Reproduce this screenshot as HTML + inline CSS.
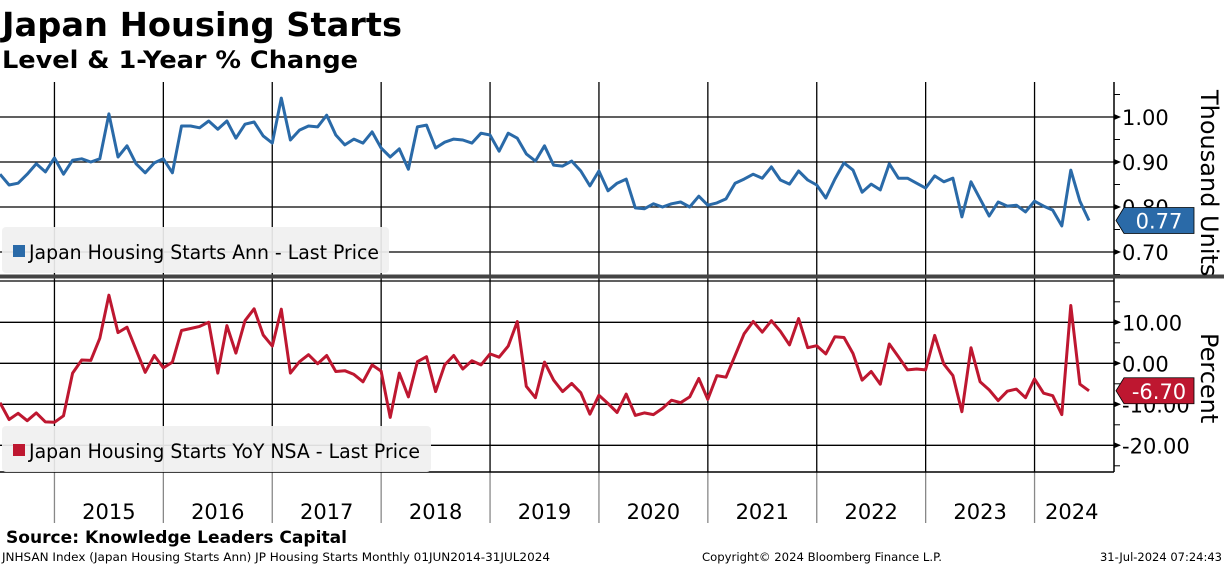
<!DOCTYPE html>
<html><head><meta charset="utf-8">
<style>
body{margin:0;background:#fff;width:1224px;height:566px;overflow:hidden;font-family:"DejaVu Sans","Liberation Sans",sans-serif;}
svg{display:block}
</style></head>
<body>
<svg id="chart" width="1224" height="566" xmlns="http://www.w3.org/2000/svg">
<text x="2" y="36" font-size="33" font-weight="bold" textLength="400" lengthAdjust="spacingAndGlyphs">Japan Housing Starts</text>
<text x="2" y="68" font-size="24" font-weight="bold" textLength="356" lengthAdjust="spacingAndGlyphs">Level &amp; 1-Year % Change</text>
<g id="grid"></g>
<g id="series"></g>
<g id="axes"></g>
<text x="6" y="543" font-size="17" font-weight="bold" textLength="341" lengthAdjust="spacingAndGlyphs">Source: Knowledge Leaders Capital</text>
<text x="2" y="561" font-size="11.5" textLength="548" lengthAdjust="spacingAndGlyphs">JNHSAN Index (Japan Housing Starts Ann) JP Housing Starts  Monthly 01JUN2014-31JUL2024</text>
<text x="702" y="561" font-size="11.5" textLength="240" lengthAdjust="spacingAndGlyphs">Copyright© 2024 Bloomberg Finance L.P.</text>
<text x="1222" y="561" font-size="11.5" text-anchor="end">31-Jul-2024 07:24:43</text>
</svg>
<script>
const levelValues=[.873,.849,.853,.873,.896,.878,.909,.873,.904,.907,.900,.907,1.007,.911,.936,.896,.876,.898,.907,.876,.980,.980,.976,.991,.973,.991,.953,.984,.989,.958,.942,1.042,.949,.971,.980,.978,1.004,.960,.938,.951,.942,.967,.931,.911,.929,
.884,.978,.982,.931,.944,.951,.949,.942,.964,.960,.924,.964,.953,.918,.902,.936,.893,.891,.902,.880,.847,.880,.836,.853,.862,.798,.796,.807,.800,.807,.811,.800,.824,.804,.809,.818,.853,.862,.873,
.864,.889,.860,.851,.880,.860,.849,.820,.862,.898,.882,.833,.851,.838,.896,.864,.864,.853,.842,.869,.856,.864,.778,.856,.818,.780,.811,.802,.804,.789,.813,.802,.793,.758,.882,.813,.770];
const yoyValues=[-9.6,-13.7,-12.2,-14.0,-12.1,-14.3,-14.4,-12.8,-2.4,0.8,0.7,6.1,16.6,7.5,8.8,3.3,-2.2,1.9,-1.1,0.3,8.0,8.5,9.0,10.0,-2.4,9.2,2.5,10.4,13.3,6.9,4.2,13.2,-2.4,0.4,2.1,-0.1,1.9,-2.0,-1.8,-2.7,-4.5,-0.4,-1.9,-13.2,-2.4,
-8.2,0.4,1.6,-6.9,-0.4,1.9,-1.4,0.6,-0.4,2.3,1.5,4.2,10.2,-5.6,-8.4,0.3,-4.1,-6.9,-4.9,-7.2,-12.4,-7.8,-9.8,-12.0,-7.5,-12.7,-12.1,-12.5,-11.0,-9.0,-9.6,-8.2,-3.7,-8.8,-3.0,-3.4,1.9,7.2,10.2,
7.6,10.4,7.8,4.5,10.9,3.8,4.3,2.3,6.5,6.3,2.4,-4.1,-2.0,-5.1,4.7,1.6,-1.6,-1.4,-1.6,6.8,-0.2,-3.0,-11.8,3.8,-4.5,-6.5,-9.1,-6.8,-6.3,-8.4,-3.8,-7.3,-7.9,-12.5,14.1,-5.1,-6.7];
const yearLabels=["2015","2016","2017","2018","2019","2020","2021","2022","2023","2024"];
const levelTicks=[1.00,0.90,0.80,0.70];
const yoyTicks=[10,0,-10,-20];

const NS="http://www.w3.org/2000/svg";
const xOf=i=>i*9.075;
const yTop=v=>117+(1.00-v)*450;
const yBot=v=>363.3-v*4.1;
const AX=1114;
function mk(tag,attrs,parent){const e=document.createElementNS(NS,tag);for(const k in attrs)e.setAttribute(k,attrs[k]);parent.appendChild(e);return e;}
const grid=document.getElementById('grid'),ser=document.getElementById('series'),axes=document.getElementById('axes');

levelTicks.forEach(t=>{const y=yTop(t);
 const l=mk('line',{x1:0,x2:AX,y1:y,y2:y,stroke:'#000','stroke-width':1.3},grid);
 
 
 mk('path',{d:`M${AX} ${y-3}L${AX+7} ${y}L${AX} ${y+3}Z`,fill:'#000'},axes);
 const tx=mk('text',{x:AX+8,y:y+8,'font-size':21},axes);tx.textContent=t.toFixed(2);
 
 
});
yoyTicks.forEach(t=>{const y=yBot(t);
 const l=mk('line',{x1:0,x2:AX,y1:y,y2:y,stroke:'#000','stroke-width':1.3},grid);
 
 
 mk('path',{d:`M${AX} ${y-3}L${AX+7} ${y}L${AX} ${y+3}Z`,fill:'#000'},axes);
 const tx=mk('text',{x:AX+8,y:y+8,'font-size':21},axes);tx.textContent=t.toFixed(2);
 
 
});
for(let v=1.05;v>0.64;v-=0.05){const y=yTop(v);mk('line',{x1:AX,x2:AX+6,y1:y,y2:y,stroke:'#000'},axes);}
for(let v=15;v>-26;v-=5){const y=yBot(v);mk('line',{x1:AX,x2:AX+6,y1:y,y2:y,stroke:'#000'},axes);}
yearLabels.forEach((lab,k)=>{const x=xOf(6+12*k);
 const l=mk('line',{x1:x,x2:x,y1:82,y2:472,stroke:'#000','stroke-width':1.3},grid);
 
 
 mk('line',{x1:x,x2:x,y1:472,y2:523,stroke:'#888','stroke-width':1.3},grid);
 const next=k<yearLabels.length-1?xOf(18+12*k):xOf(120)+20;
 const tx=mk('text',{x:(x+next)/2,y:519,'font-size':21,'text-anchor':'middle'},axes);tx.textContent=lab;
 
 
});
mk('line',{x1:AX,x2:AX,y1:82,y2:472,stroke:'#000','stroke-width':1.5},axes);
mk('line',{x1:0,x2:AX,y1:472,y2:472,stroke:'#000','stroke-width':1.5},axes);
mk('rect',{x:0,y:274.5,width:1224,height:4,fill:'#444'},axes);
mk('line',{x1:0,x2:AX,y1:281,y2:281,stroke:'#000','stroke-width':1.3},axes);

function legend(y,w,tl,color,label,name){
 const g=mk('g',{},axes);
 
 
 mk('rect',{x:2,y:y,width:w,height:46,rx:4,fill:'#f0f0f0','fill-opacity':0.92},g);
 mk('rect',{x:13,y:y+18,width:12,height:12,fill:color},g);
 const t=mk('text',{x:29,y:y+32,'font-size':19.5,textLength:tl,lengthAdjust:'spacingAndGlyphs'},g);t.textContent=label;
}
function series(vals,yf,color,name){
 const d=vals.map((v,i)=>(i?'L':'M')+xOf(i).toFixed(1)+' '+yf(v).toFixed(1)).join('');
 const p=mk('path',{d:d,fill:'none',stroke:color,'stroke-width':3,'stroke-linejoin':'round'},ser);
 
 
}
series(levelValues,yTop,'#2a6aa8','level-line');
series(yoyValues,yBot,'#be1730','yoy-line');
legend(227,387,350,'#2a6aa8','Japan Housing Starts Ann - Last Price','level-legend');
legend(426,429,391,'#be1730','Japan Housing Starts YoY NSA - Last Price','yoy-legend');

function tag(v,yf,color,text,name){
 const y=yf(v);
 const g=mk('g',{},axes);
 
 
 mk('path',{d:`M${AX+2} ${y}L${AX+10} ${y-13}L${AX+80} ${y-13}L${AX+80} ${y+13}L${AX+10} ${y+13}Z`,fill:color,stroke:'#000','stroke-width':0.8},g);
 const t=mk('text',{x:AX+45,y:y+8,'font-size':21,fill:'#fff','text-anchor':'middle'},g);t.textContent=text;
}
tag(levelValues[levelValues.length-1],yTop,'#2a6aa8','0.77','level-last-value-tag');
tag(yoyValues[yoyValues.length-1],yBot,'#be1730','-6.70','yoy-last-value-tag');

function vtitle(x,y,text,name){const t=mk('text',{x:x,y:y,'font-size':24,transform:`rotate(90 ${x} ${y})`},axes);t.textContent=text;
 
 }
vtitle(1201,90,'Thousand Units','level-axis-title');
vtitle(1201,333,'Percent','yoy-axis-title');
</script>
</body></html>
